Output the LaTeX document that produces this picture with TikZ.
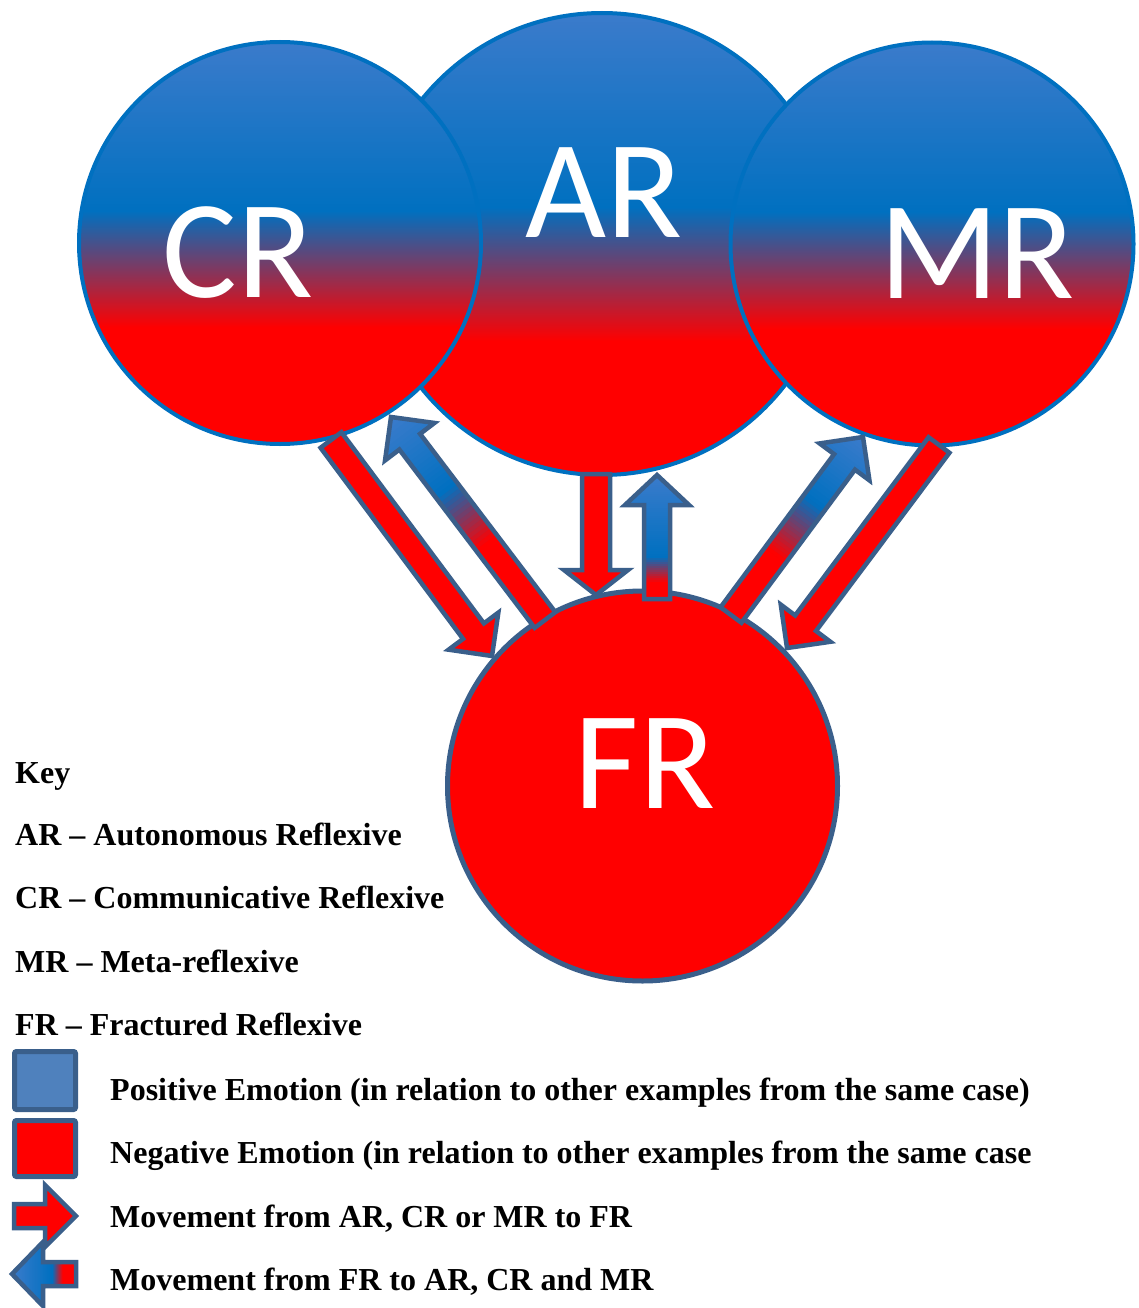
\documentclass[tikz,border=0pt]{standalone}
\usepackage{fontspec}
\setmainfont{Liberation Serif}
\newfontfamily\carlito{Carlito}
\usetikzlibrary{calc}
\definecolor{cred}{HTML}{FF0000}
\definecolor{cmid}{HTML}{0070C0}
\definecolor{ctop}{HTML}{3B7BCB}
\definecolor{aline}{HTML}{3A5F8B}
\definecolor{lblue}{HTML}{4F81BD}
\pgfdeclareverticalshading{circgrad}{100bp}{color(0bp)=(cred); color(39.5bp)=(cred); color(54bp)=(cmid); color(75bp)=(ctop); color(100bp)=(ctop)}
\newcommand\redarrow[5]{%
  \path ($(#2)!#5!(#1)$) coordinate (hbtmp);
  \draw[arrowstyle, fill=cred] ($(#1)!#3!90:(#2)$) -- ($(hbtmp)!#3!90:(#2)$) -- ($(hbtmp)!#4!90:(#2)$) -- (#2) -- ($(hbtmp)!#4!-90:(#2)$) -- ($(hbtmp)!#3!-90:(#2)$) -- ($(#1)!#3!-90:(#2)$) -- cycle;
}
\newcommand\gradarrow[7]{%
  \path ($(#2)!#5!(#1)$) coordinate (hbtmp) ($(#1)!2!(#2)$) coordinate (fartmp);
  \begin{scope}
    \clip ($(#1)!#3!90:(#2)$) -- ($(hbtmp)!#3!90:(#2)$) -- ($(hbtmp)!#4!90:(#2)$) -- (#2) -- ($(hbtmp)!#4!-90:(#2)$) -- ($(hbtmp)!#3!-90:(#2)$) -- ($(#1)!#3!-90:(#2)$) -- cycle;
    \foreach \k in {0,...,59}{%
      \pgfmathsetmacro\tA{\k/60}%
      \pgfmathsetmacro\tB{min(1.02,(\k+1.7)/60)}%
      \pgfmathsetmacro\tM{(\k+0.5)/60}%
      \pgfmathsetmacro\pa{max(0,min(100,(\tM-#6)/(#7-#6)*100))}%
      \pgfmathsetmacro\pb{max(0,min(100,(\tM-#7)/(1-#7)*100))}%
      \colorlet{ctmpA}{cmid!\pa!cred}%
      \colorlet{ctmpB}{ctop!\pb!ctmpA}%
      \path ($(#1)!\tA!(#2)$) coordinate (qa) ($(#1)!\tB!(#2)$) coordinate (qb);
      \fill[ctmpB] ($(qa)!40pt!90:(fartmp)$) -- ($(qb)!40pt!90:(fartmp)$) -- ($(qb)!40pt!-90:(fartmp)$) -- ($(qa)!40pt!-90:(fartmp)$) -- cycle;
    }
  \end{scope}
  \draw[arrowstyle] ($(#1)!#3!90:(#2)$) -- ($(hbtmp)!#3!90:(#2)$) -- ($(hbtmp)!#4!90:(#2)$) -- (#2) -- ($(hbtmp)!#4!-90:(#2)$) -- ($(hbtmp)!#3!-90:(#2)$) -- ($(#1)!#3!-90:(#2)$) -- cycle;
}
\begin{document}
\begin{tikzpicture}[x=1pt,y=-1pt,
  arrowstyle/.style={draw=aline, line width=4.5pt, line join=miter},
  bigcirc/.style={circle, inner sep=0pt, outer sep=0pt, draw=cmid, line width=4pt, shading=circgrad},
  bigtxt/.style={anchor=base, inner sep=0pt, text=white, font=\carlito\fontsize{140}{140}\selectfont},
  keytxt/.style={anchor=base west, inner sep=0pt, font=\bfseries\fontsize{32}{38}\selectfont},
  legsq/.style={rectangle, rounded corners=2pt, draw=aline, line width=5pt, inner sep=0pt, minimum width=61pt}]
\useasboundingbox (0,0) rectangle (1138,1308);
\fill[white] (0,0) rectangle (1138,1308);

% circles
\node[bigcirc, minimum size=462pt] (AR) at (602,244) {};
\node[bigcirc, minimum size=402pt] (CR) at (280,243) {};
\node[bigcirc, minimum size=403pt] (MR) at (932,244) {};
\node[circle, inner sep=0pt, draw=aline, line width=5pt, fill=cred, minimum size=390pt] (FR) at (642.5,786) {};

\node[bigtxt] (CRt) at (238,297) {CR};
\node[bigtxt] (ARt) at (604,237) {AR};
\node[bigtxt] (MRt) at (977,298) {MR};
\node[bigtxt] (FRt) at (645,808) {FR};

% arrow end points
\coordinate (a1s) at (331,440); \coordinate (a1e) at (492,656);
\coordinate (a2s) at (545,620); \coordinate (a2e) at (391,417);
\coordinate (a3s) at (596,474); \coordinate (a3e) at (596,595);
\coordinate (a4s) at (657,599); \coordinate (a4e) at (657,475);
\coordinate (a5s) at (731,615); \coordinate (a5e) at (863,437);
\coordinate (a6s) at (939,445); \coordinate (a6e) at (787,648);

\redarrow{a1s}{a1e}{13pt}{31pt}{31pt}
\gradarrow{a2s}{a2e}{13pt}{31pt}{31pt}{0.38}{0.64}
\redarrow{a3s}{a3e}{14pt}{32pt}{25pt}
\gradarrow{a4s}{a4e}{13pt}{32pt}{30pt}{0.13}{0.34}
\gradarrow{a5s}{a5e}{13pt}{31pt}{31pt}{0.34}{0.63}
\redarrow{a6s}{a6e}{13pt}{31pt}{31pt}

% key
\node[keytxt] (key) at (15,783) {Key};
\node[keytxt] (kAR) at (15,845) {AR – Autonomous Reflexive};
\node[keytxt] (kCR) at (15,908) {CR – Communicative Reflexive};
\node[keytxt] (kMR) at (15,972) {MR – Meta-reflexive};
\node[keytxt] (kFR) at (15,1035) {FR – Fractured Reflexive};

\node[legsq, fill=lblue, minimum height=58pt] (sqpos) at (45,1080.5) {};
\node[legsq, fill=cred, minimum height=56pt] (sqneg) at (45,1148.5) {};
\coordinate (l1s) at (14,1216); \coordinate (l1e) at (76,1216);
\coordinate (l2s) at (76,1274); \coordinate (l2e) at (12,1274);
\redarrow{l1s}{l1e}{12pt}{31pt}{31pt}
\gradarrow{l2s}{l2e}{12pt}{32pt}{31pt}{0.2}{0.375}

\node[keytxt] (lpos) at (110,1100) {Positive Emotion (in relation to other examples from the same case)};
\node[keytxt] (lneg) at (110,1163) {Negative Emotion (in relation to other examples from the same case};
\node[keytxt] (lmv1) at (110,1227) {Movement from AR, CR or MR to FR};
\node[keytxt] (lmv2) at (110,1290) {Movement from FR to AR, CR and MR};
\end{tikzpicture}
\end{document}
